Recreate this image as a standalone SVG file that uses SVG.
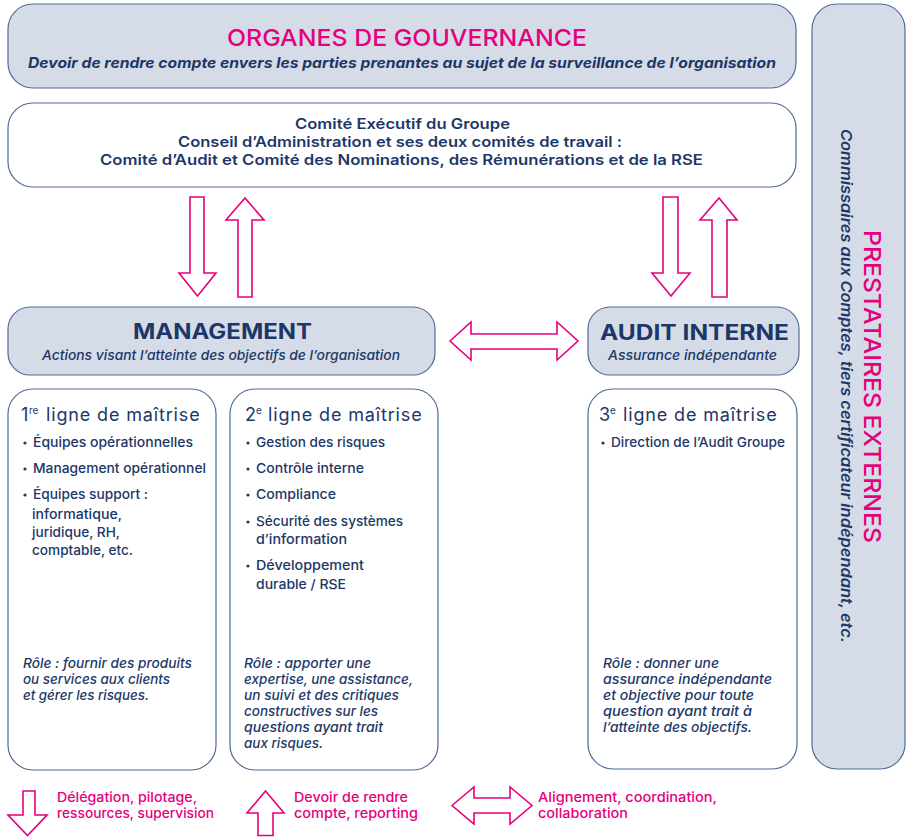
<svg xmlns="http://www.w3.org/2000/svg" width="906" height="837" viewBox="0 0 906 837">
<style>
text{font-family:Inter,"Liberation Sans",sans-serif;fill:#1c3768}
.box{fill:#d6dce7;stroke:#4f6c96;stroke-width:1.2}
.wbox{fill:#fff;stroke:#4f6c96;stroke-width:1.2}
.arr{fill:#fff;stroke:#e6007e;stroke-width:1.6;stroke-linejoin:miter}
.pink{fill:#e6007e}
.t1{font-size:23.5px;font-weight:500}
.sub{font-size:14.5px;font-weight:700;font-style:italic}
.com{font-size:14.5px;font-weight:600}
.h2{font-size:21px;font-weight:700}
.it{font-size:13.5px;font-style:italic;font-weight:500}
.hd{font-size:18px;font-weight:400}
.sup{font-size:10px}
.lig{letter-spacing:0.85px}
.bl{font-size:13.5px;font-weight:500}
.lg{font-size:13.5px;font-weight:500;fill:#e6007e}
.dot{fill:#1c3768}
</style>
<g id="gouvernance">
<rect class="box" x="8" y="4" width="788" height="84" rx="25"/>
<text class="t1 pink" x="227" y="46" textLength="360" lengthAdjust="spacingAndGlyphs">ORGANES DE GOUVERNANCE</text>
<text class="sub" x="28" y="68" textLength="748" lengthAdjust="spacingAndGlyphs">Devoir de rendre compte envers les parties prenantes au sujet de la surveillance de l’organisation</text>
</g>
<g id="comites">
<rect class="wbox" x="8" y="103" width="788" height="84" rx="25"/>
<text class="com" x="295" y="129" textLength="215" lengthAdjust="spacingAndGlyphs">Comité Exécutif du Groupe</text>
<text class="com" x="178" y="147" textLength="444" lengthAdjust="spacingAndGlyphs">Conseil d’Administration et ses deux comités de travail :</text>
<text class="com" x="100" y="165" textLength="603" lengthAdjust="spacingAndGlyphs">Comité d’Audit et Comité des Nominations, des Rémunérations et de la RSE</text>
</g>
<g id="prestataires">
<rect class="box" x="812" y="4" width="93" height="765" rx="25"/>
<text class="t1 pink" transform="translate(864,230) rotate(90)" x="0" y="0" textLength="313" lengthAdjust="spacingAndGlyphs">PRESTATAIRES EXTERNES</text>
<text class="sub" style="font-size:15px;font-weight:600" transform="translate(841,129) rotate(90)" x="0" y="0" textLength="514" lengthAdjust="spacingAndGlyphs">Commissaires aux Comptes, tiers certificateur indépendant, etc.</text>
</g>
<g id="management">
<rect class="box" x="8" y="307" width="427" height="68" rx="22"/>
<text class="h2" x="133" y="339" textLength="179" lengthAdjust="spacingAndGlyphs">MANAGEMENT</text>
<text class="it" x="42" y="360" textLength="358" lengthAdjust="spacingAndGlyphs">Actions visant l’atteinte des objectifs de l’organisation</text>
</g>
<g id="audit-interne">
<rect class="box" x="588" y="307" width="211" height="68" rx="22"/>
<text class="h2" x="600" y="340" textLength="189" lengthAdjust="spacingAndGlyphs">AUDIT INTERNE</text>
<text class="it" x="608" y="360" textLength="169" lengthAdjust="spacingAndGlyphs">Assurance indépendante</text>
</g>
<g id="ligne1">
<rect class="wbox" x="8" y="389" width="208" height="381" rx="25"/>
<text class="hd" y="421"><tspan x="21">1</tspan><tspan class="sup" x="29" dy="-7">re</tspan><tspan class="lig" x="46" dy="7">ligne de maîtrise</tspan></text>
<circle class="dot" cx="25" cy="443" r="1.6"/>
<circle class="dot" cx="25" cy="469" r="1.6"/>
<circle class="dot" cx="25" cy="495" r="1.6"/>
<text class="bl" x="33" y="447" textLength="160" lengthAdjust="spacingAndGlyphs">Équipes opérationnelles</text>
<text class="bl" x="33" y="473" textLength="173" lengthAdjust="spacingAndGlyphs">Management opérationnel</text>
<text class="bl" x="33" y="499" textLength="115" lengthAdjust="spacingAndGlyphs">Équipes support :</text>
<text class="bl" x="32" y="519" textLength="90" lengthAdjust="spacingAndGlyphs">informatique,</text>
<text class="bl" x="32" y="537" textLength="88" lengthAdjust="spacingAndGlyphs">juridique, RH,</text>
<text class="bl" x="32" y="555" textLength="101" lengthAdjust="spacingAndGlyphs">comptable, etc.</text>
<text class="it" x="23" y="668" textLength="169" lengthAdjust="spacingAndGlyphs">Rôle : fournir des produits</text>
<text class="it" x="23" y="684" textLength="147" lengthAdjust="spacingAndGlyphs">ou services aux clients</text>
<text class="it" x="23" y="700" textLength="126" lengthAdjust="spacingAndGlyphs">et gérer les risques.</text>
</g>
<g id="ligne2">
<rect class="wbox" x="230" y="389" width="208" height="381" rx="25"/>
<text class="hd" y="421"><tspan x="245">2</tspan><tspan class="sup" x="256" dy="-7">e</tspan><tspan class="lig" x="268" dy="7">ligne de maîtrise</tspan></text>
<circle class="dot" cx="248" cy="443" r="1.6"/>
<circle class="dot" cx="248" cy="469" r="1.6"/>
<circle class="dot" cx="248" cy="495" r="1.6"/>
<circle class="dot" cx="248" cy="522" r="1.6"/>
<circle class="dot" cx="248" cy="566" r="1.6"/>
<text class="bl" x="256" y="447" textLength="129" lengthAdjust="spacingAndGlyphs">Gestion des risques</text>
<text class="bl" x="256" y="473" textLength="108" lengthAdjust="spacingAndGlyphs">Contrôle interne</text>
<text class="bl" x="256" y="499" textLength="80" lengthAdjust="spacingAndGlyphs">Compliance</text>
<text class="bl" x="256" y="526" textLength="147" lengthAdjust="spacingAndGlyphs">Sécurité des systèmes</text>
<text class="bl" x="256" y="544" textLength="91" lengthAdjust="spacingAndGlyphs">d’information</text>
<text class="bl" x="256" y="570" textLength="108" lengthAdjust="spacingAndGlyphs">Développement</text>
<text class="bl" x="256" y="589" textLength="90" lengthAdjust="spacingAndGlyphs">durable / RSE</text>
<text class="it" x="244" y="668" textLength="127" lengthAdjust="spacingAndGlyphs">Rôle : apporter une</text>
<text class="it" x="244" y="684" textLength="169" lengthAdjust="spacingAndGlyphs">expertise, une assistance,</text>
<text class="it" x="244" y="700" textLength="155" lengthAdjust="spacingAndGlyphs">un suivi et des critiques</text>
<text class="it" x="244" y="716" textLength="134" lengthAdjust="spacingAndGlyphs">constructives sur les</text>
<text class="it" x="244" y="732" textLength="139" lengthAdjust="spacingAndGlyphs">questions ayant trait</text>
<text class="it" x="244" y="748" textLength="79" lengthAdjust="spacingAndGlyphs">aux risques.</text>
</g>
<g id="ligne3">
<rect class="wbox" x="588" y="389" width="209" height="380" rx="25"/>
<text class="hd" y="421"><tspan x="599">3</tspan><tspan class="sup" x="610" dy="-7">e</tspan><tspan class="lig" x="623" dy="7">ligne de maîtrise</tspan></text>
<circle class="dot" cx="603" cy="443" r="1.6"/>
<text class="bl" x="611" y="447" textLength="174" lengthAdjust="spacingAndGlyphs">Direction de l’Audit Groupe</text>
<text class="it" x="603" y="668" textLength="116" lengthAdjust="spacingAndGlyphs">Rôle : donner une</text>
<text class="it" x="603" y="684" textLength="169" lengthAdjust="spacingAndGlyphs">assurance indépendante</text>
<text class="it" x="603" y="700" textLength="151" lengthAdjust="spacingAndGlyphs">et objective pour toute</text>
<text class="it" x="603" y="716" textLength="149" lengthAdjust="spacingAndGlyphs">question ayant trait à</text>
<text class="it" x="603" y="732" textLength="149" lengthAdjust="spacingAndGlyphs">l’atteinte des objectifs.</text>
</g>
<g id="connectors">
<polygon class="arr" points="190,197 204,197 204,273 216,273 197.5,296 179,273 190,273"/>
<polygon class="arr" points="238,297 252,297 252,220 264,220 245,198 226,220 238,220"/>
<polygon class="arr" points="663,197 678,197 678,273 690,273 671,296 652,273 663,273"/>
<polygon class="arr" points="712,297 727,297 727,220 737,220 719,198 700,220 712,220"/>
<polygon class="arr" points="450,341 471,322 471,334 557,334 557,322 578,341 557,360 557,349 471,349 471,360"/>
</g>
<g id="legende">
<polygon class="arr" points="23,791 35,791 35,815 47,815 27.5,835.5 8,815 23,815"/>
<text class="lg" x="57" y="802" textLength="140" lengthAdjust="spacingAndGlyphs">Délégation, pilotage,</text>
<text class="lg" x="57" y="818" textLength="157" lengthAdjust="spacingAndGlyphs">ressources, supervision</text>
<polygon class="arr" points="258,835.5 273,835.5 273,813 284,813 265.5,791 247,813 258,813"/>
<text class="lg" x="294" y="802" textLength="114" lengthAdjust="spacingAndGlyphs">Devoir de rendre</text>
<text class="lg" x="294" y="818" textLength="124" lengthAdjust="spacingAndGlyphs">compte, reporting</text>
<polygon class="arr" points="452,805.5 474,787 474,798 510,798 510,787 532,805.5 510,824 510,813 474,813 474,824"/>
<text class="lg" x="538" y="802" textLength="179" lengthAdjust="spacingAndGlyphs">Alignement, coordination,</text>
<text class="lg" x="538" y="818" textLength="90" lengthAdjust="spacingAndGlyphs">collaboration</text>
</g>
</svg>
